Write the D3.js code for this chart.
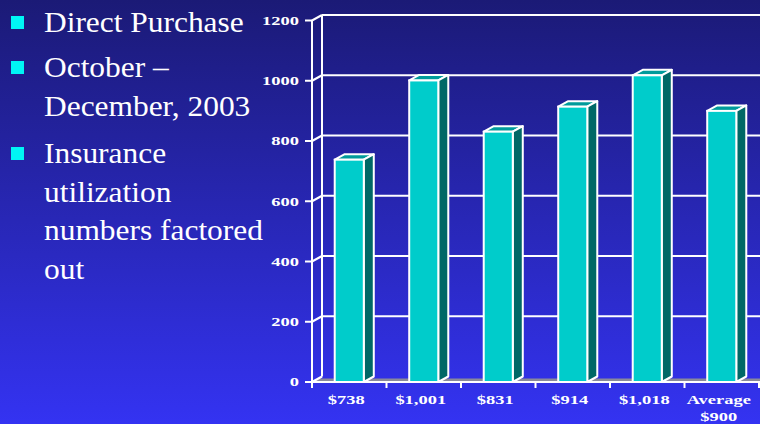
<!DOCTYPE html>
<html>
<head>
<meta charset="utf-8">
<script src="https://cdn.jsdelivr.net/npm/d3@7"></script>
<style>
  html, body { margin: 0; padding: 0; background: #2a2ab8; }
  svg { display: block; }
</style>
</head>
<body>
<script>
// Direct purchase spend by group, Oct–Dec 2003
const categories = ["$738", "$1,001", "$831", "$914", "$1,018", "Average $900"];
const categoryLines = [["$738"], ["$1,001"], ["$831"], ["$914"], ["$1,018"], ["Average", "$900"]];
const values = [738, 1001, 831, 914, 1018, 900];
const yTicks = [0, 200, 400, 600, 800, 1000, 1200];
const bullets = [
  ["Direct Purchase"],
  ["October –", "December, 2003"],
  ["Insurance", "utilization", "numbers factored", "out"]
];

const W = 760, H = 424;
const svg = d3.select("body").append("svg").attr("width", W).attr("height", H);

// slide background gradient
const defs = svg.append("defs");
const grad = defs.append("linearGradient").attr("id", "bg")
  .attr("x1", 0).attr("y1", 0).attr("x2", 0).attr("y2", 1);
grad.append("stop").attr("offset", "0%").attr("stop-color", "#1b1a76");
grad.append("stop").attr("offset", "100%").attr("stop-color", "#3433f2");
svg.append("rect").attr("width", W).attr("height", H).attr("fill", "url(#bg)");

// bullet list
const lineH = 38.5;
const bulletTops = [32, 77, 163];
const txt = svg.append("g");
bullets.forEach((lines, i) => {
  const base = bulletTops[i];
  txt.append("rect")
    .attr("x", 11).attr("y", base - 16).attr("width", 13).attr("height", 13)
    .attr("fill", "#00f5f5");
  lines.forEach((s, j) => {
    txt.append("g")
      .attr("transform", `translate(44,${base + j * lineH}) scale(1.065,1)`)
      .append("text")
      .attr("font-family", "'Liberation Serif', 'Times New Roman', serif")
      .attr("font-size", 29.5)
      .attr("fill", "#ffffff")
      .text(s);
  });
});

// 3D chart frame
const depthX = 10, depthY = -5.5;
const x = d3.scaleBand().domain(categories).range([312, 759]).padding(0);
const y = d3.scaleLinear().domain([0, 1200]).range([382, 20.5]);
const x0 = x.range()[0], x1 = x.range()[1];
const chart = svg.append("g");

// back wall gridlines
chart.selectAll("line.grid").data(yTicks.filter(v => v > 0)).join("line")
  .attr("x1", x0 + depthX).attr("x2", W + 20)
  .attr("y1", d => y(d) + depthY).attr("y2", d => y(d) + depthY)
  .attr("stroke", "#fff").attr("stroke-width", 2);
// back wall left edge
chart.append("line")
  .attr("x1", x0 + depthX).attr("x2", x0 + depthX)
  .attr("y1", y(1200) + depthY).attr("y2", y(0) + depthY)
  .attr("stroke", "#fff").attr("stroke-width", 2);

// floor
const fy = y(0);
chart.append("polygon")
  .attr("points", [
    [x0, fy], [x0 + depthX * 0.65, fy + depthY * 0.65],
    [W + 20, fy + depthY * 0.65], [W + 20, fy]
  ].map(p => p.join(",")).join(" "))
  .attr("fill", "#8a8a9a");

// front value axis
chart.append("line")
  .attr("x1", x0).attr("x2", x0).attr("y1", y(1200)).attr("y2", y(0))
  .attr("stroke", "#fff").attr("stroke-width", 2);
chart.selectAll("line.ytick").data(yTicks).join("line")
  .attr("x1", x0 - 7).attr("x2", x0)
  .attr("y1", d => y(d)).attr("y2", d => y(d))
  .attr("stroke", "#fff").attr("stroke-width", 2);
chart.selectAll("line.ydiag").data(yTicks).join("line")
  .attr("x1", x0).attr("x2", x0 + depthX)
  .attr("y1", d => y(d)).attr("y2", d => y(d) + depthY)
  .attr("stroke", "#fff").attr("stroke-width", 2);

// bars
const bw = x.bandwidth();
const barX = d => x(d) + bw * 0.305;
const barW = bw * 0.39;
const bars = chart.selectAll("g.bar").data(categories.map((c, i) => ({ c, v: values[i] }))).join("g");
bars.append("polygon") // top face
  .attr("points", d => {
    const l = barX(d.c), r = l + barW, t = y(d.v);
    return [[l, t], [l + depthX, t + depthY], [r + depthX, t + depthY], [r, t]].map(p => p.join(",")).join(" ");
  })
  .attr("fill", "#009b9b").attr("stroke", "#fff").attr("stroke-width", 2).attr("stroke-linejoin", "round");
bars.append("polygon") // side face
  .attr("points", d => {
    const r = barX(d.c) + barW, t = y(d.v), b = y(0);
    return [[r, t], [r + depthX, t + depthY], [r + depthX, b + depthY], [r, b]].map(p => p.join(",")).join(" ");
  })
  .attr("fill", "#006866").attr("stroke", "#fff").attr("stroke-width", 2).attr("stroke-linejoin", "round");
bars.append("rect") // front face
  .attr("x", d => barX(d.c)).attr("y", d => y(d.v))
  .attr("width", barW).attr("height", d => y(0) - y(d.v))
  .attr("fill", "#00cccb").attr("stroke", "#fff").attr("stroke-width", 2);

// category axis
chart.append("line")
  .attr("x1", x0 - 7).attr("x2", W + 20).attr("y1", y(0)).attr("y2", y(0))
  .attr("stroke", "#fff").attr("stroke-width", 2);
const bounds = categories.map(c => x(c)).concat([x1]);
chart.selectAll("line.xtick").data(bounds).join("line")
  .attr("x1", d => d).attr("x2", d => d)
  .attr("y1", y(0)).attr("y2", y(0) + 6)
  .attr("stroke", "#fff").attr("stroke-width", 2);

// labels
const labelFont = "'Liberation Serif', 'Times New Roman', serif";
const sx = 1.42;
chart.selectAll("g.ylab").data(yTicks).join("g")
  .attr("transform", d => `translate(299,${y(d) + 4.3}) scale(${sx},1)`)
  .append("text")
  .attr("text-anchor", "end")
  .attr("font-family", labelFont).attr("font-weight", "bold").attr("font-size", 13)
  .attr("fill", "#fff")
  .text(d => d);

categories.forEach((c, i) => {
  categoryLines[i].forEach((s, j) => {
    chart.append("g")
      .attr("transform", `translate(${x(c) + bw / 2 - 3},${404 + j * 17}) scale(${sx},1)`)
      .append("text")
      .attr("text-anchor", "middle")
      .attr("font-family", labelFont).attr("font-weight", "bold").attr("font-size", 13)
      .attr("fill", "#fff")
      .text(s);
  });
});
</script>
</body>
</html>
